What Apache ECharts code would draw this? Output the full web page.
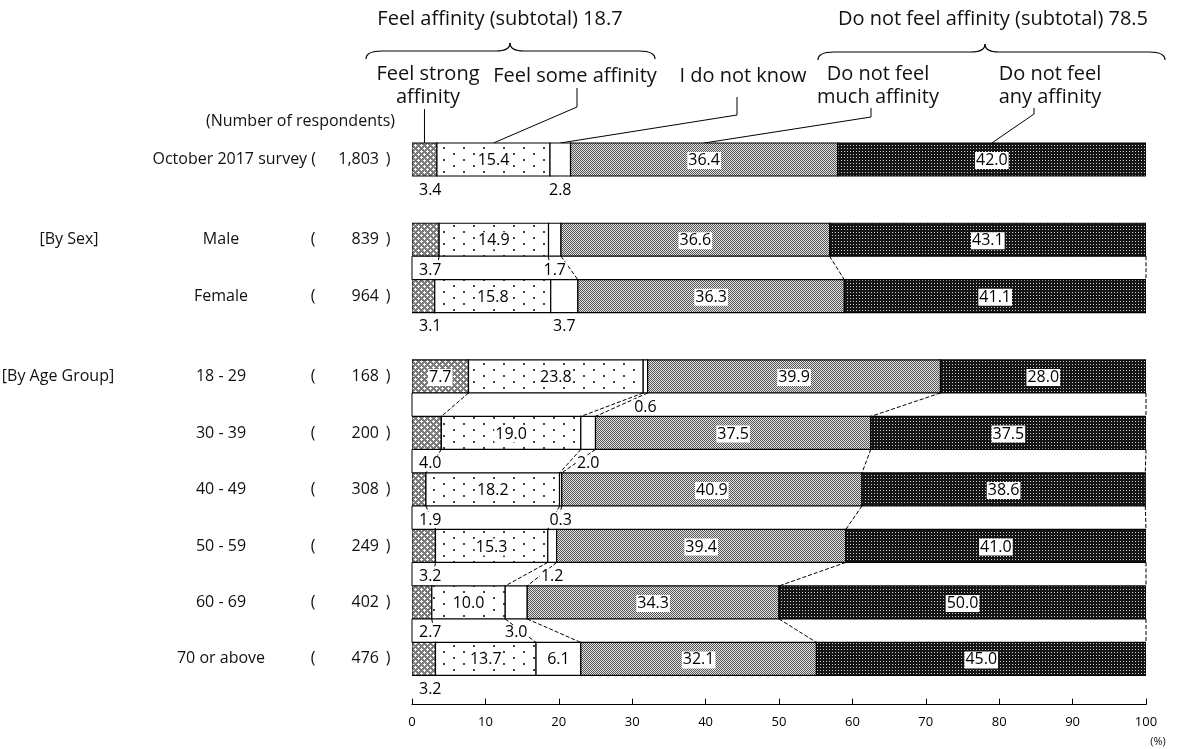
<!DOCTYPE html>
<html><head><meta charset="utf-8">
<script src="https://cdn.jsdelivr.net/npm/echarts@6/dist/echarts.min.js"></script>
<style>html,body{margin:0;padding:0;background:#fff}#c{width:1181px;height:749px}</style>
</head><body><div id="c"></div>
<script>
// ---------------- DATA ----------------
const rowNames = ['October 2017 survey', 'Male', 'Female', '18 - 29', '30 - 39', '40 - 49', '50 - 59', '60 - 69', '70 or above'];
const respondents = ['1,803', '839', '964', '168', '200', '308', '249', '402', '476'];
const seriesNames = ['Feel strong affinity', 'Feel some affinity', 'I do not know', 'Do not feel much affinity', 'Do not feel any affinity'];
const strongAffinity = [3.4, 3.7, 3.1, 7.7, 4.0, 1.9, 3.2, 2.7, 3.2];
const someAffinity   = [15.4, 14.9, 15.8, 23.8, 19.0, 18.2, 15.3, 10.0, 13.7];
const doNotKnow      = [2.8, 1.7, 3.7, 0.6, 2.0, 0.3, 1.2, 3.0, 6.1];
const notMuch        = [36.4, 36.6, 36.3, 39.9, 37.5, 40.9, 39.4, 34.3, 32.1];
const notAny         = [42.0, 43.1, 41.1, 28.0, 37.5, 38.6, 41.0, 50.0, 45.0];
const sectionRows = [[0], [1, 2], [3, 4, 5, 6, 7, 8]];
const sectionLabels = ['', '[By Sex]', '[By Age Group]'];
const subtotalFeel = 18.7;
const subtotalNotFeel = 78.5;
const xTicks = [0, 10, 20, 30, 40, 50, 60, 70, 80, 90, 100];

// ---------------- LAYOUT / STYLE ----------------
const FONT = '"Open Sans", Lato, sans-serif';
const GAP = 0.42;          // extra spacing between sections (axis units)
const BAR_FRAC = 0.584;    // bar thickness as fraction of one row
const values = [strongAffinity, someAffinity, doNotKnow, notMuch, notAny];
const rowSection = [];
sectionRows.forEach((rows, s) => rows.forEach(r => rowSection[r] = s));
const rowPos = rowNames.map((_, i) => i + GAP * rowSection[i]);
const cum = rowNames.map((_, i) => {
  const a = [0];
  values.forEach(v => a.push(a[a.length - 1] + v[i]));
  return a;
});

function tile(w, h, draw) {
  const c = document.createElement('canvas'); c.width = w; c.height = h;
  const g = c.getContext('2d'); draw(g); return c;
}
const patterns = [
  {image: tile(6, 6, g => {
    g.fillStyle = '#7c7c7c'; g.fillRect(0, 0, 6, 6);
    g.fillStyle = '#ffffff';
    [[1,0],[0,1],[1,1],[2,1],[1,2],[4,3],[3,4],[4,4],[5,4],[4,5]].forEach(p => g.fillRect(p[0], p[1], 1, 1));
  }), repeat: 'repeat'},
  {image: tile(20, 12, g => {
    g.fillStyle = '#ffffff'; g.fillRect(0, 0, 20, 12);
    g.fillStyle = '#444'; g.fillRect(3, 3, 2, 2); g.fillRect(13, 9, 2, 2);
  }), repeat: 'repeat'},
  '#ffffff',
  {image: tile(2, 2, g => {
    g.fillStyle = '#e2e2e2'; g.fillRect(0, 0, 2, 2);
    g.fillStyle = '#555'; g.fillRect(0, 0, 1, 1); g.fillRect(1, 1, 1, 1);
  }), repeat: 'repeat'},
  {image: tile(3, 3, g => {
    g.fillStyle = '#151515'; g.fillRect(0, 0, 3, 3);
    g.fillStyle = '#cfcfcf'; g.fillRect(1, 1, 1, 1);
  }), repeat: 'repeat'}
];

function insideLabel(k, v) { return !((k === 0 || k === 2) && v < 6); }

const barSeries = values.map((vals, k) => ({
  type: 'custom', name: seriesNames[k], z: 3, clip: true,
  encode: {x: [0, 1], y: 2},
  data: rowNames.map((_, i) => [cum[i][k], cum[i][k + 1], rowPos[i], vals[i]]),
  renderItem: (params, api) => {
    const x0 = api.value(0), x1 = Math.min(100, api.value(1)), y = api.value(2), v = api.value(3);
    const p0 = api.coord([x0, y]), p1 = api.coord([x1, y]);
    const h = api.size([0, 1])[1] * BAR_FRAC;
    const children = [{
      type: 'rect',
      shape: {x: p0[0], y: p0[1] - h / 2, width: p1[0] - p0[0], height: h},
      style: {fill: patterns[k], stroke: '#000', lineWidth: 1.2}
    }];
    if (insideLabel(k, v)) {
      children.push({
        type: 'text', z2: 10,
        style: {text: v.toFixed(1), x: (p0[0] + p1[0]) / 2, y: p0[1] + 1, align: 'center', verticalAlign: 'middle',
          font: '16px ' + FONT, fill: '#000', backgroundColor: '#fff', padding: [1, 1, 0, 1]}
      });
    }
    return {type: 'group', children};
  }
}));

// series lines between consecutive rows in a section
const lineData = [];
sectionRows.forEach(rows => {
  for (let j = 0; j + 1 < rows.length; j++) {
    const a = rows[j], b = rows[j + 1];
    for (let k = 0; k <= 5; k++) lineData.push([Math.min(100, cum[a][k]), Math.min(100, cum[b][k]), rowPos[a], rowPos[b], k]);
  }
});
const lineSeries = {
  type: 'custom', z: 2, clip: false, silent: true,
  data: lineData,
  renderItem: (params, api) => {
    const h = api.size([0, 1])[1] * BAR_FRAC;
    const pa = api.coord([api.value(0), api.value(2)]), pb = api.coord([api.value(1), api.value(3)]);
    const k = api.value(4);
    return {type: 'line', shape: {x1: pa[0], y1: pa[1] + h / 2, x2: pb[0], y2: pb[1] - h / 2},
      style: {stroke: '#000', lineWidth: 1, lineDash: k === 0 ? null : [4, 2]}};
  }
};

// small values shown under the bars
const smallData = [];
rowNames.forEach((_, i) => {
  [0, 2].forEach(k => {
    const v = values[k][i];
    if (!insideLabel(k, v)) smallData.push([k === 0 ? 0 : (cum[i][k] + cum[i][k + 1]) / 2, rowPos[i], v, k]);
  });
});
const smallSeries = {
  type: 'custom', z: 5, clip: false, silent: true,
  data: smallData,
  renderItem: (params, api) => {
    const h = api.size([0, 1])[1] * BAR_FRAC;
    const p = api.coord([api.value(0), api.value(1)]);
    const k = api.value(3);
    return {type: 'text', style: {text: api.value(2).toFixed(1), x: k === 0 ? p[0] + 6 : p[0], y: p[1] + h / 2 + 14,
      align: k === 0 ? 'left' : 'center', verticalAlign: 'middle', font: '16px ' + FONT, fill: '#000',
      backgroundColor: '#fff', padding: [0, 1, 0, 1]}};
  }
};

// row labels on the left
const rowLabelSeries = {
  type: 'custom', z: 5, clip: false, silent: true,
  data: rowNames.map((_, i) => [0, rowPos[i], i]),
  renderItem: (params, api) => {
    const i = api.value(2);
    const p = api.coord([0, api.value(1)]);
    const y = p[1];
    const st = (text, x, align) => ({type: 'text', style: {text, x, y, align, verticalAlign: 'middle', font: '16px ' + FONT, fill: '#111'}});
    const ch = [];
    if (i === 0) ch.push(st(rowNames[i] + ' (', 316, 'right'));
    else { ch.push(st(rowNames[i], 221, 'center')); ch.push(st('(', 313, 'center')); }
    ch.push(st(respondents[i], 379, 'right'));
    ch.push(st(')', 388, 'center'));
    const s = rowSection[i];
    if (s > 0 && sectionRows[s][0] === i) ch.push(st(sectionLabels[s], s === 1 ? 69 : 58, 'center'));
    return {type: 'group', children: ch};
  }
};

const chart = echarts.init(document.getElementById('c'));
chart.setOption({
  animation: false,
  backgroundColor: '#fff',
  grid: {left: 412, right: 35, top: 103, bottom: 44.3},
  xAxis: {type: 'value', min: 0, max: 100, interval: 10,
    axisLine: {show: true, onZero: false, lineStyle: {color: '#000', width: 1}},
    axisTick: {show: true, inside: true, length: 6, lineStyle: {color: '#000'}},
    axisLabel: {color: '#000', fontSize: 13, fontFamily: FONT, margin: 11,
      formatter: v => xTicks.indexOf(v) >= 0 ? String(v) : ''},
    splitLine: {show: false}},
  yAxis: {type: 'value', inverse: true, min: -1, max: 9.65, show: false},
  series: [lineSeries].concat(barSeries, [smallSeries, rowLabelSeries])
});

// ---------------- annotations ----------------
const px = (x, y) => chart.convertToPixel({gridIndex: 0}, [x, y]);
const h0 = (px(0, 1)[1] - px(0, 0)[1]) * BAR_FRAC;
const barTop = px(0, rowPos[0])[1] - h0 / 2;
const segC = k => px((cum[0][k] + cum[0][k + 1]) / 2, rowPos[0])[0];
const T = (text, x, y, size, align) => ({type: 'text', style: {text, x, y, align: align || 'center', verticalAlign: 'middle', font: size + 'px ' + FONT, fill: '#111'}});
const L = pts => ({type: 'polyline', shape: {points: pts}, style: {stroke: '#000', lineWidth: 1, fill: null}});
const Q = (x1, y1, cx, cy, x2, y2) => ({type: 'bezierCurve', shape: {x1, y1, x2, y2, cpx1: cx, cpy1: cy}, style: {stroke: '#000', lineWidth: 1.2, fill: null}});
const brace = (x1, xm, x2, yEnd, yMid, yTip) => ({type: 'group', children: [
  Q(x1, yEnd, x1, yMid, x1 + 16, yMid),
  {type: 'line', shape: {x1: x1 + 16, y1: yMid, x2: xm - 14, y2: yMid}, style: {stroke: '#000', lineWidth: 1.2}},
  Q(xm - 14, yMid, xm, yMid, xm, yTip),
  Q(xm, yTip, xm, yMid, xm + 14, yMid),
  {type: 'line', shape: {x1: xm + 14, y1: yMid, x2: x2 - 16, y2: yMid}, style: {stroke: '#000', lineWidth: 1.2}},
  Q(x2 - 16, yMid, x2, yMid, x2, yEnd)
]});
const numY = px(0, rowPos[0])[1] - 38;
const xAxisY = px(0, 9.65)[1];
chart.setOption({graphic: [
  T('Feel affinity (subtotal) ' + subtotalFeel.toFixed(1), 500, 19, 20),
  brace(366, 510, 655, 59, 51, 43),
  T('Do not feel affinity (subtotal) ' + subtotalNotFeel.toFixed(1), 993, 19, 20),
  brace(818, 985, 1165, 60, 52, 44),
  T('Feel strong', 428, 74, 20), T('affinity', 428, 97, 20),
  T('Feel some affinity', 575, 76, 20),
  T('I do not know', 743, 76, 20),
  T('Do not feel', 878, 74, 20), T('much affinity', 878, 97, 20),
  T('Do not feel', 1050, 74, 20), T('any affinity', 1050, 97, 20),
  T('(Number of respondents)', 395, numY, 16, 'right'),
  L([[segC(0), 109], [segC(0), barTop]]),
  L([[577, 88], [577, 107], [segC(1), barTop]]),
  L([[737, 97], [737, 115], [segC(2), barTop]]),
  L([[871, 108], [871, 117], [segC(3), barTop]]),
  L([[1034, 108], [1034, 114], [segC(4), barTop]]),
  T('(%)', 1158, xAxisY + 37, 11)
]});
</script>
</body></html>
